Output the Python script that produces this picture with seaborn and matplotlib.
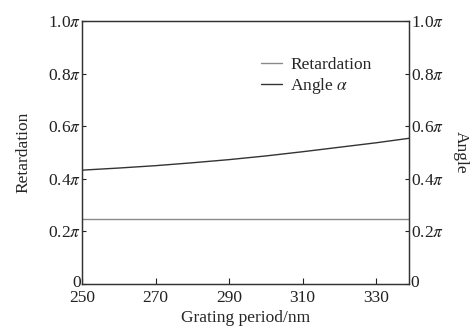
import matplotlib
matplotlib.use("Agg")
import matplotlib.pyplot as plt
import matplotlib.transforms as mtrans
import seaborn as sns
import pandas as pd

sns.set_style("ticks")
plt.rcParams['font.family'] = ['Liberation Serif', 'DejaVu Serif']
plt.rcParams['mathtext.fontset'] = 'stix'

period = [250, 260, 270, 280, 290, 300, 310, 320, 330, 340]
retardation = [0.248] * 10
angle = [0.433, 0.441, 0.450, 0.461, 0.473, 0.487, 0.503, 0.520, 0.537, 0.556]
yticks = [0, 0.2, 0.4, 0.6, 0.8, 1.0]
ytick_labels = ["0", r"0.2$\pi$", r"0.4$\pi$", r"0.6$\pi$", r"0.8$\pi$", r"1.0$\pi$"]
xticks = [250, 270, 290, 310, 330]

df = pd.DataFrame({"period": period, "Retardation": retardation, "Angle": angle})

fig = plt.figure(figsize=(4.72, 3.33), dpi=100)
ax = fig.add_axes([0.174, 0.147, 0.693, 0.790])

sns.lineplot(data=df, x="period", y="Retardation", ax=ax, color="#8a8a8a",
             linewidth=1.0, label="Retardation")
sns.lineplot(data=df, x="period", y="Angle", ax=ax, color="#333333",
             linewidth=1.0, label=r"Angle $\alpha$")

FS = 12.5
ax.set_xlim(250, 339)
ax.set_ylim(0, 1.0)
ax.set_xticks(xticks)
ax.set_yticks(yticks)
ax.set_yticklabels(ytick_labels)
ax.tick_params(axis="y", direction="in", length=3, width=0.8, labelsize=FS, colors="#222222", pad=1)
ax.tick_params(axis="x", direction="in", length=4, width=0.8, labelsize=FS, colors="#222222", pad=4.5)
ax.set_xlabel("Grating period/nm", fontsize=FS, labelpad=3)
ax.set_ylabel("Retardation", fontsize=FS, labelpad=12)
for s in ax.spines.values():
    s.set_linewidth(0.9)
    s.set_color("#333333")

ax2 = ax.twinx()
ax2.set_ylim(0, 1.0)
ax2.set_yticks(yticks)
ax2.set_yticklabels(ytick_labels)
ax2.tick_params(direction="in", length=3, width=0.8, labelsize=FS, colors="#222222", pad=1)
ax2.set_ylabel("Angle", fontsize=FS, rotation=270, labelpad=18)
for s in ax2.spines.values():
    s.set_linewidth(0.9)
    s.set_color("#333333")

# lift the "0" labels slightly so they clear the x tick labels
up = mtrans.ScaledTranslation(0, 3 / 100, fig.dpi_scale_trans)
for a in (ax, ax2):
    lbls = a.yaxis.get_majorticklabels()
    for t in (lbls[0],):
        t.set_transform(t.get_transform() + up)
    for tk in a.yaxis.get_major_ticks()[:1]:
        tk.label1.set_transform(tk.label1.get_transform())

leg = ax.legend(loc="upper left", bbox_to_anchor=(0.52, 0.895), frameon=False,
                fontsize=FS, handlelength=1.2, handletextpad=0.5,
                labelspacing=0.15, borderpad=0)

fig.savefig("out.png", dpi=100)
